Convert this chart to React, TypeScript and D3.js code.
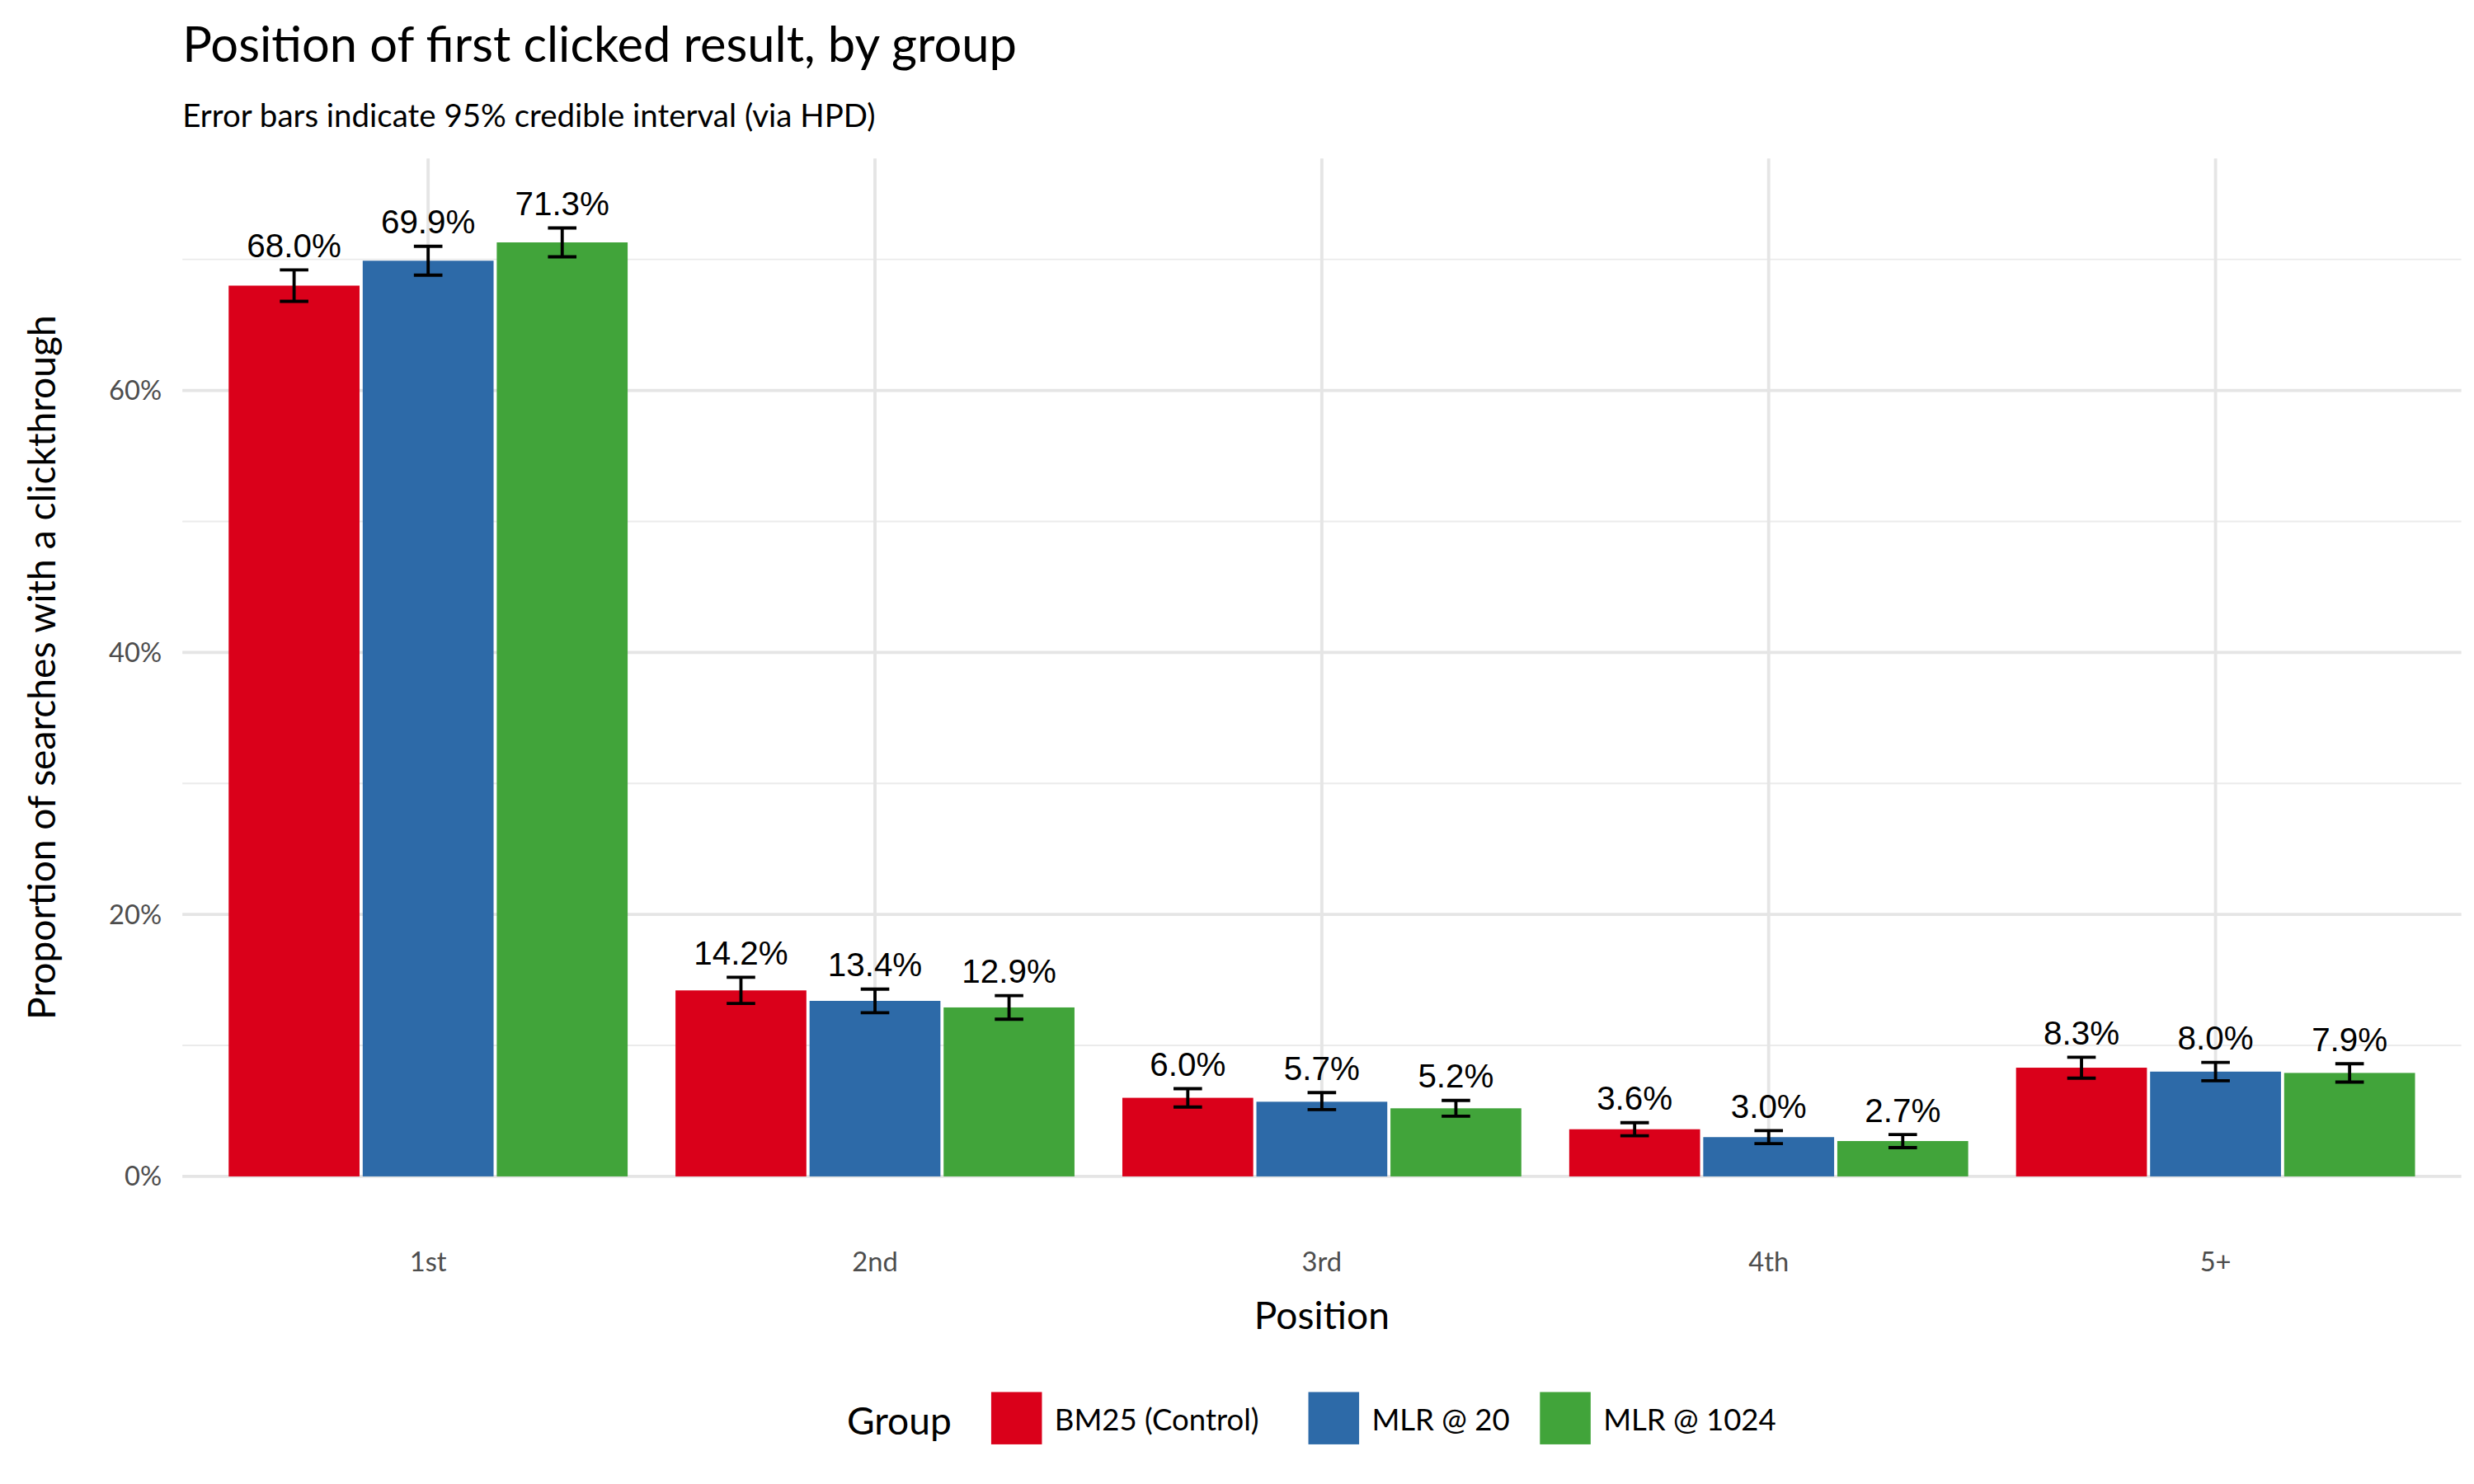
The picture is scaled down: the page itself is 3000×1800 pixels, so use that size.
import * as d3 from 'd3'

const positions = ['1st', '2nd', '3rd', '4th', '5+']
const groups = ['BM25 (Control)', 'MLR @ 20', 'MLR @ 1024']
const colors = ['#DA001A', '#2D6AA8', '#41A43A']
// proportion (%) per group, per position
const values = [
  [68.0, 14.2, 6.0, 3.6, 8.3],
  [69.9, 13.4, 5.7, 3.0, 8.0],
  [71.3, 12.9, 5.2, 2.7, 7.9],
]
const lower = [
  [66.8, 13.2, 5.3, 3.1, 7.5],
  [68.8, 12.5, 5.1, 2.5, 7.3],
  [70.2, 12.0, 4.6, 2.2, 7.2],
]
const upper = [
  [69.2, 15.2, 6.7, 4.1, 9.1],
  [71.0, 14.3, 6.4, 3.5, 8.7],
  [72.4, 13.8, 5.8, 3.2, 8.6],
]
const yTicks = [0, 20, 40, 60]
const yMinor = [10, 30, 50, 70]

const W = 1560
const H = 936
const M = { l: 115, r: 8, t: 100, b: 194 }
const FONT = 'Lato, "Noto Sans", sans-serif'

export default function App() {
  const x = d3.scaleBand().domain(positions).range([M.l, W - M.r]).paddingOuter(0.1).paddingInner(0.1)
  const step = x.step()
  const x0 = d3.scaleBand<number>().domain(d3.range(groups.length)).range([M.l + step * 0.05 + (step - step * 0.9) / 2 - step * 0.05, 0]).range([0, step * 0.9])
  const y = d3.scaleLinear().domain([0, 77.7]).range([H - M.b, M.t])
  const cx = (p: string) => (x(p) as number) + x.bandwidth() / 2
  const bw = x0.bandwidth()

  const legendX = [625, 825, 971]
  return (
    <svg width={3000} height={1800} viewBox={`0 0 ${W} ${H}`} style={{ position: 'absolute', left: 0, top: 0, background: '#fff' }}>
      <text x={115} y={39} fontFamily={FONT} fontSize={31} fill="#000">Position of first clicked result, by group</text>
      <text x={115} y={80} fontFamily={FONT} fontSize={20} fill="#000">Error bars indicate 95% credible interval (via HPD)</text>

      {yMinor.map(t => (
        <line key={'m' + t} x1={M.l} x2={W - M.r} y1={y(t)} y2={y(t)} stroke="#ebebeb" strokeWidth={1} />
      ))}
      {yTicks.map(t => (
        <g key={t}>
          <line x1={M.l} x2={W - M.r} y1={y(t)} y2={y(t)} stroke="#e5e5e5" strokeWidth={2} />
          <text x={M.l - 13} y={y(t)} dy="0.35em" textAnchor="end" fontFamily={FONT} fontSize={17} fill="#4d4d4d">{t}%</text>
        </g>
      ))}
      {positions.map(p => (
        <g key={p}>
          <line x1={cx(p)} x2={cx(p)} y1={M.t} y2={H - M.b} stroke="#e5e5e5" strokeWidth={2} />
          <text x={cx(p)} y={H - M.b + 60} textAnchor="middle" fontFamily={FONT} fontSize={17} fill="#4d4d4d">{p}</text>
        </g>
      ))}

      {groups.map((g, gi) =>
        positions.map((p, pi) => {
          const bx = cx(p) - step * 0.45 + (x0(gi) as number)
          const mx = bx + bw / 2
          return (
            <g key={g + p}>
              <rect x={bx + 1} y={y(values[gi][pi])} width={bw - 2} height={y(0) - y(values[gi][pi])} fill={colors[gi]} />
              <line x1={mx} x2={mx} y1={y(lower[gi][pi])} y2={y(upper[gi][pi])} stroke="#000" strokeWidth={2} />
              <line x1={mx - 9} x2={mx + 9} y1={y(lower[gi][pi])} y2={y(lower[gi][pi])} stroke="#000" strokeWidth={2} />
              <line x1={mx - 9} x2={mx + 9} y1={y(upper[gi][pi])} y2={y(upper[gi][pi])} stroke="#000" strokeWidth={2} />
              <text x={mx} y={y(upper[gi][pi]) - 8} textAnchor="middle" fontFamily='"Liberation Sans", Arial, sans-serif' fontSize={21} fill="#000">
                {values[gi][pi].toFixed(1)}%
              </text>
            </g>
          )
        })
      )}

      <text x={(M.l + W - M.r) / 2} y={838} textAnchor="middle" fontFamily={FONT} fontSize={24} fill="#000">Position</text>
      <text transform={`translate(35,${(M.t + H - M.b) / 2}) rotate(-90)`} textAnchor="middle" fontFamily={FONT} fontSize={24} fill="#000">Proportion of searches with a clickthrough</text>

      <text x={534} y={905} fontFamily={FONT} fontSize={24} fill="#000">Group</text>
      {groups.map((g, gi) => (
        <g key={g}>
          <rect x={legendX[gi]} y={878} width={32} height={33} fill={colors[gi]} />
          <text x={legendX[gi] + 40} y={902} fontFamily={FONT} fontSize={19} fill="#000">{g}</text>
        </g>
      ))}
    </svg>
  )
}
